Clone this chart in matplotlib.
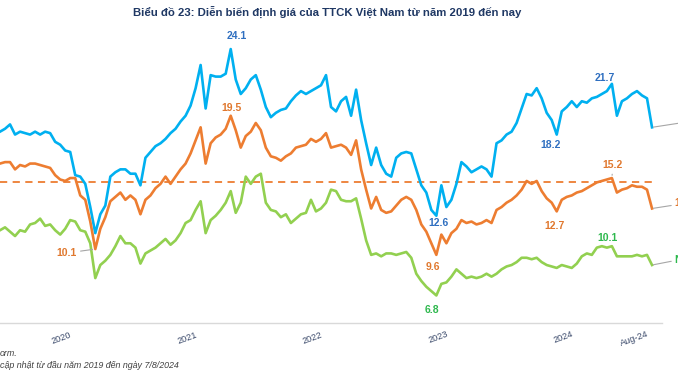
import pandas as pd
import matplotlib
matplotlib.use("Agg")
import matplotlib.pyplot as plt
import matplotlib.transforms as mtransforms

plt.rcParams['font.family'] = ['Liberation Sans', 'DejaVu Sans']

# visible part of the series (chart is cropped on the left)
start = "2019-05-31"
end = "2024-08-07"

blue = [18.4, 18.6, 18.9, 18.2, 18.4, 18.3, 18.2, 18.4, 18.2, 18.4,
        18.3, 17.7, 17.5, 17.1, 17.0, 15.4, 15.3, 14.8, 13.2, 11.4,
        12.7, 13.3, 15.3, 15.6, 15.8, 15.8, 15.5, 15.5, 14.7, 16.6,
        17.0, 17.4, 17.6, 17.9, 18.3, 18.6, 19.1, 19.5, 20.2, 21.4,
        23.0, 20.0, 22.3, 22.2, 22.2, 22.4, 24.1, 22.0, 21.0, 21.4,
        22.0, 22.3, 21.3, 20.1, 19.4, 19.7, 19.9, 20.0, 20.5, 20.9,
        21.2, 21.0, 21.2, 21.4, 21.6, 22.3, 20.1, 19.8, 20.5, 20.8,
        19.5, 21.3, 19.2, 17.6, 16.1, 17.3, 16.1, 15.5, 15.3, 16.6,
        16.9, 17.0, 16.9, 15.8, 14.7, 14.2, 13.0, 12.6, 14.7, 13.2,
        13.7, 14.8, 16.3, 16.0, 15.6, 15.8, 16.0, 15.8, 15.3, 17.6,
        17.8, 18.2, 18.4, 19.0, 20.0, 21.0, 20.9, 21.4, 20.7, 19.7,
        19.2, 18.2, 19.8, 20.1, 20.5, 20.1, 20.5, 20.4, 20.7, 20.8,
        21.0, 21.2, 21.7, 19.5, 20.5, 20.7, 21.0, 21.2, 20.9, 20.7,
        18.7]

orange = [16.2, 16.3, 16.3, 15.8, 16.1, 16.0, 16.2, 16.2, 16.1, 16.0,
          15.9, 15.4, 15.1, 15.0, 15.2, 15.2, 14.0, 13.7, 12.2, 10.3,
          11.7, 12.5, 13.6, 13.9, 14.2, 13.7, 14.0, 13.7, 12.7, 13.7,
          14.0, 14.5, 14.8, 15.3, 14.8, 15.3, 15.8, 16.2, 16.9, 17.8,
          18.7, 16.2, 17.6, 18.0, 18.2, 18.6, 19.5, 18.5, 17.3, 18.1,
          18.4, 19.0, 18.5, 17.3, 16.7, 16.6, 16.4, 16.7, 16.9, 17.3,
          17.4, 17.5, 17.9, 17.7, 17.9, 18.3, 17.3, 17.4, 17.5, 17.3,
          16.8, 17.8, 15.8, 14.4, 13.1, 13.9, 13.0, 12.8, 12.9, 13.3,
          13.7, 13.9, 13.7, 13.0, 12.0, 11.5, 10.7, 9.9, 11.3, 10.7,
          11.4, 11.7, 12.3, 12.1, 12.2, 12.0, 12.1, 12.3, 12.1, 13.0,
          13.2, 13.5, 13.7, 14.0, 14.4, 15.0, 14.8, 15.0, 14.3, 13.8,
          13.5, 12.9, 13.7, 13.9, 14.0, 14.2, 14.3, 14.5, 14.7, 14.9,
          15.0, 15.1, 15.2, 14.2, 14.4, 14.5, 14.7, 14.6, 14.6, 14.4,
          13.1]

green = [11.6, 11.8, 11.5, 11.2, 11.6, 11.5, 12.0, 12.1, 12.4, 11.9,
         12.0, 11.6, 11.3, 11.7, 12.3, 12.2, 11.6, 11.5, 10.7, 8.3,
         9.2, 9.5, 9.9, 10.5, 11.2, 10.7, 10.7, 10.4, 9.3, 10.0,
         10.2, 10.4, 10.7, 11.0, 10.6, 10.9, 11.4, 12.1, 12.3, 13.0,
         13.6, 11.4, 12.3, 12.6, 13.0, 13.5, 14.3, 12.8, 13.5, 15.3,
         14.8, 15.3, 15.5, 13.5, 13.0, 12.9, 12.5, 12.7, 12.1, 12.4,
         12.7, 12.8, 13.7, 12.9, 13.1, 13.5, 14.4, 14.3, 13.7, 13.6,
         13.6, 13.8, 12.4, 10.9, 9.9, 10.0, 9.8, 10.0, 10.0, 9.9,
         10.0, 10.1, 9.7, 8.6, 8.1, 7.7, 7.4, 7.1, 7.9, 8.0,
         8.4, 8.9, 8.6, 8.3, 8.4, 8.3, 8.4, 8.6, 8.4, 8.6,
         8.9, 9.1, 9.2, 9.4, 9.7, 9.7, 9.6, 9.7, 9.4, 9.2,
         9.1, 9.0, 9.2, 9.1, 9.0, 9.3, 9.8, 10.0, 9.9, 10.4,
         10.5, 10.4, 10.5, 9.8, 9.8, 9.8, 9.8, 9.9, 9.8, 9.9,
         9.2]

orange_avg = 14.9

tick_dates = ["2020-01-01", "2021-01-01", "2022-01-01", "2023-01-01",
              "2024-01-01", "2024-08-07"]
tick_labels = ["2020", "2021", "2022", "2023", "2024", "Aug-24"]

title = "Biểu đồ 23: Diễn biến định giá của TTCK Việt Nam từ năm 2019 đến nay"
note1 = "orm."
note2 = "cập nhật từ đầu năm 2019 đến ngày 7/8/2024"

dates = pd.date_range(start, end, periods=len(blue))

c_blue = "#00b0f0"
c_orange = "#ed7d31"
c_green = "#92d050"
lab_blue = "#2f6fc0"
lab_orange = "#e0782e"
lab_green = "#2db84d"
grey = "#a6a6a6"

fig = plt.figure(figsize=(6.78, 3.81), dpi=100)
ax = fig.add_axes([0, 58 / 381, 662 / 678, 288 / 381])

ax.plot(dates, [orange_avg] * len(dates), color=c_orange, lw=1.3,
        dashes=(4, 3))
ax.plot(dates, blue, color=c_blue, lw=1.9)
ax.plot(dates, orange, color=c_orange, lw=1.9)
ax.plot(dates, green, color=c_green, lw=1.9)

ax.set_xlim(pd.Timestamp(start), pd.Timestamp("2024-09-05"))
ax.set_ylim(5.2, 25.07)

for s in ["left", "right", "top"]:
    ax.spines[s].set_visible(False)
ax.spines["bottom"].set_color("#d9d9d9")
ax.spines["bottom"].set_linewidth(1)

ax.set_yticks([])
ax.set_xticks(pd.to_datetime(tick_dates))
ax.set_xticklabels(tick_labels, rotation=20, ha="right",
                   rotation_mode="anchor", fontsize=6.6, color="#3b4a6b")
ax.tick_params(axis="x", length=0, pad=5)
shift = mtransforms.ScaledTranslation(-5 / 100, 0, fig.dpi_scale_trans)
for lbl in ax.get_xticklabels():
    lbl.set_transform(lbl.get_transform() + shift)

# value labels (index into the series, text, colour, offset in pixels)
labels = [
    (blue, 46, "24.1", lab_blue, (6, 13), False),
    (orange, 46, "19.5", lab_orange, (1, 8), False),
    (orange, 19, "10.1", lab_orange, (-29, -4), True),
    (blue, 87, "12.6", lab_blue, (2, -7), False),
    (orange, 87, "9.6", lab_orange, (-3, -12), False),
    (green, 87, "6.8", lab_green, (-4, -15), False),
    (blue, 111, "18.2", lab_blue, (-6, -10), False),
    (orange, 111, "12.7", lab_orange, (-2, -15), False),
    (blue, 122, "21.7", lab_blue, (-7, 6), False),
    (orange, 122, "15.2", lab_orange, (1, 13), True),
    (green, 122, "10.1", lab_green, (-4, 8), False),
]
for series, i, txt, col, off, leader in labels:
    kw = {}
    if leader:
        kw["arrowprops"] = dict(arrowstyle="-", color=grey, lw=0.8,
                                shrinkA=1, shrinkB=2)
    ax.annotate(txt, (dates[i], series[i]), xytext=off,
                textcoords="offset pixels", ha="center", va="center",
                fontsize=7.5, fontweight="bold", color=col, **kw)

# leader lines to the (cropped) end labels on the right
ends = [(blue, "", lab_blue, (26, 4)),
        (orange, "13.1", lab_orange, (22, 5)),
        (green, "N", lab_green, (22, 5))]
for series, txt, col, off in ends:
    ax.annotate(txt, (dates[-1], series[-1]), xytext=off,
                textcoords="offset pixels", ha="left", va="center",
                fontsize=7.5, fontweight="bold", color=col,
                annotation_clip=False,
                arrowprops=dict(arrowstyle="-", color=grey, lw=0.8,
                                shrinkA=0, shrinkB=1))

fig.text(0.483, 1 - 12 / 381, title, ha="center", va="center",
         fontsize=8.2, fontweight="bold", color="#1f3864")
fig.text(0.0, 1 - 354 / 381, note1, ha="left", va="center", fontsize=6.4,
         style="italic", color="#404040")
fig.text(0.0, 1 - 366 / 381, note2, ha="left", va="center", fontsize=6.4,
         style="italic", color="#404040")

fig.savefig("out.png", dpi=100)
